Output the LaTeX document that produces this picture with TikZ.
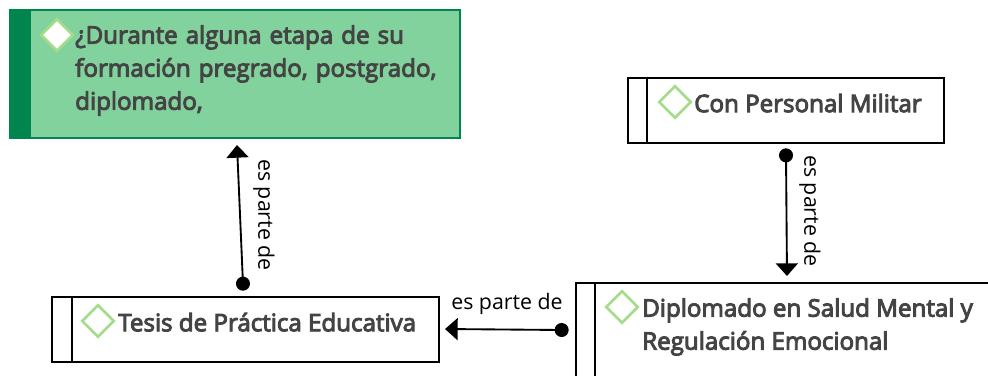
\documentclass[tikz,border=0pt]{standalone}
\usepackage{fontspec}
\setmainfont{Open Sans}
\newfontfamily\headfont[FakeBold=4]{Open Sans}
\usetikzlibrary{shapes.geometric,arrows.meta}
\definecolor{txt}{HTML}{444444}
\definecolor{dgreen}{HTML}{00854F}
\definecolor{lgreen}{HTML}{82D29D}
\definecolor{dia}{HTML}{A5DC8C}
\tikzset{
  x=0.75pt,y=-0.75pt,
  box/.style={draw=black,line width=1.5pt,fill=white,rectangle,inner sep=0pt,anchor=north west},
  divider/.style={draw=black,line width=1.5pt},
  diam/.style={diamond,draw=dia,line width=2pt,fill=white,inner sep=0pt,minimum width=24.5pt,minimum height=24.5pt,aspect=1},
  title/.style={font=\headfont\fontsize{18.1pt}{24.8pt}\selectfont,text=txt,anchor=north west,inner sep=0pt,align=left},
  lab/.style={font=\fontsize{16pt}{18pt}\selectfont,text=black,inner sep=0pt},
  conn/.style={line width=1.4pt,draw=black,{Circle[length=10.5pt,width=10.5pt]}-{Triangle[length=9.5pt,width=16.5pt]},shorten <=-5pt},
}
\begin{document}
\begin{tikzpicture}
\useasboundingbox (0,0) rectangle (988,375);
% top-left box
\node[box,draw=dgreen,fill=lgreen,minimum width=338pt,minimum height=96pt] (q) at (8.5,9) {};
\fill[dgreen] (8.5,9) rectangle (31,138);
\node[diam] (qd) at (57,35) {};
\node[title,text width=300pt] (qt) at (75,25) {¿Durante alguna etapa de su\\formación pregrado, postgrado,\\diplomado,};
% Con Personal Militar
\node[box,minimum width=237pt,minimum height=49pt] (p) at (626.5,76.5) {};
\draw[divider] (647,77) -- (647,143);
\node[diam] (pd) at (675,102) {};
\node[title] (pt) at (694,93.5) {Con Personal Militar};
% Tesis
\node[box,minimum width=290.5pt,minimum height=49pt] (t) at (50.5,295.5) {};
\draw[divider] (72,296) -- (72,362);
\node[diam] (td) at (98,321) {};
\node[title] (tt) at (118,312.5) {Tesis de Práctica Educativa};
% Diplomado
\node[box,minimum width=340pt,minimum height=90pt] (d) at (574.5,281.5) {};
\draw[divider] (595,282) -- (595,380);
\node[diam] (dd) at (622,307) {};
\node[title] (dt) at (642,298) {Diplomado en Salud Mental y\\Regulación Emocional};
% connector ends
\coordinate (a1) at (243,284); \coordinate (a2) at (237,145);
\coordinate (b1) at (786,155); \coordinate (b2) at (787,276);
\coordinate (c1) at (562,330); \coordinate (c2) at (445,329);
\draw[conn] (a1) -- (a2);
\draw[conn] (b1) -- (b2);
\draw[conn] (c1) -- (c2);
\node[lab,rotate=-90] (la) at (264,215) {es parte de};
\node[lab,rotate=-90] (lb) at (810,211) {es parte de};
\node[lab] (lc) at (507,304) {es parte de};
\end{tikzpicture}
\end{document}
